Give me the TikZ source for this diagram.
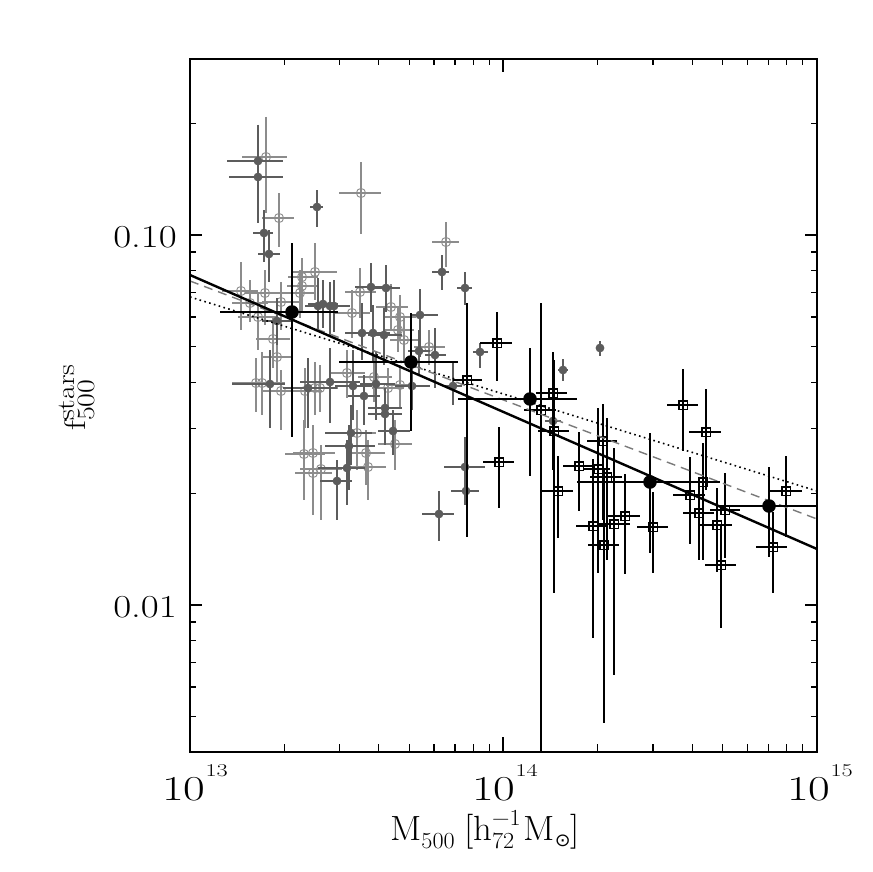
\documentclass[tikz,border=0pt]{standalone}
\usepackage{fontspec}
\newfontfamily\symfont{DejaVu Sans}
\definecolor{fgray}{gray}{0.36}
\definecolor{ogray}{gray}{0.55}
\definecolor{lgray}{gray}{0.48}
\tikzset{
 ebf/.style={fgray,line width=1.4pt},
 ebo/.style={ogray,line width=1.2pt},
 ebs/.style={black,line width=1.7pt},
 ebb/.style={black,line width=2.7pt},
 frame/.style={black,line width=1.5pt},
 tickl/.style={black,line width=1.2pt},
 ticklab/.style={inner sep=0pt},
 fitsolid/.style={black,line width=2.4pt},
 fitdash/.style={lgray,line width=1.4pt,dash pattern=on 9pt off 6pt},
 fitdot/.style={black,line width=1.6pt,dash pattern=on 1.6pt off 3.4pt},
}
\newcommand{\tpow}[1]{\scalebox{1.35}[1]{\fontsize{35}{35}\selectfont 10\raisebox{24pt}{\fontsize{18}{18}\selectfont #1}}}
\begin{document}
\begin{tikzpicture}[x=1pt,y=-1pt]
\fill[white] (0,0) rectangle (872,872);
\useasboundingbox (0,0) rectangle (872,872);
\begin{scope}
\clip (190,59) rectangle (817,752);
% open gray circles
\foreach \px/\py/\xa/\xb/\ya/\yb in {
266/157/242/287/117/213, 279/218/262/294/193/247, 361/193/339/381/162/234,
315/272/292/337/243/300, 446/242/432/459/222/267, 241/291/222/258/262/330,
302/277/288/318/258/300, 302/286/287/318/262/312, 300/293/285/316/270/318,
265/293/245/285/270/325, 281/302/262/300/282/330, 250/303/232/268/280/322,
258/317/238/276/292/350, 273/339/256/290/318/368, 277/357/262/292/332/385,
360/292/345/376/268/318, 352/313/335/370/290/338, 391/307/376/408/284/330,
400/317/385/416/295/340, 398/330/383/414/308/352, 404/340/390/420/318/362,
429/347/414/445/330/365, 347/373/330/365/350/398, 374/377/358/392/355/402,
256/383/232/280/358/412, 262/383/240/285/352/415, 281/391/262/300/370/430,
305/391/288/322/368/428, 315/388/298/332/362/415, 320/388/305/338/365/412,
388/388/372/404/368/410, 400/385/386/416/365/408, 304/454/285/325/420/500,
313/453/293/335/425/495, 321/469/300/342/445/520, 313/473/295/332/450/515,
357/433/338/376/410/470, 366/453/348/385/430/485, 368/467/350/386/440/500,
395/444/378/412/420/470}{
  \draw[ebo] (\xa,\py) -- (\xb,\py) (\px,\ya) -- (\px,\yb);
  \draw[ogray,line width=0.9pt] (\px,\py) circle[radius=4.6];
}
% filled gray circles
\foreach \px/\py/\xa/\xb/\ya/\yb in {
258/161/227/283/125/223, 258/177/229/283/125/223, 264/233/253/273/210/262,
269/254/258/280/230/282, 317/207/310/323/190/227, 442/272/432/449/255/290,
465/288/457/472/272/305, 371/287/355/392/263/312, 386/288/372/400/265/312,
318/306/305/335/278/330, 323/304/308/338/280/328, 330/306/315/345/282/335,
334/306/320/350/280/332, 277/321/262/292/298/345, 362/333/345/380/303/360,
373/333/358/390/305/362, 384/335/368/402/308/365, 420/315/410/438/289/357,
419/351/408/430/330/375, 435/355/425/446/328/388, 453/386/443/462/362/405,
480/352/473/488/343/368, 270/384/232/285/350/428, 308/388/283/337/358/428,
330/382/300/360/348/423, 353/386/335/372/350/420, 364/396/348/380/375/425,
376/384/360/395/352/420, 385/408/368/402/388/440, 385/414/368/402/392/445,
393/431/378/410/410/455, 351/433/325/372/405/465, 349/446/325/375/425/490,
347/468/318/365/440/505, 337/481/320/352/460/520, 412/386/395/430/360/410,
465/467/444/485/437/505, 466/491/451/479/470/505, 439/514/422/454/491/541,
563/370/558/568/359/381, 600/348/596/604/341/356, 553/421/545/561/410/432}{
  \draw[ebf] (\xa,\py) -- (\xb,\py) (\px,\ya) -- (\px,\yb);
  \fill[fgray] (\px,\py) circle[radius=4.4];
}
% black open squares
\foreach \px/\py/\xa/\xb/\ya/\yb in {
497/343/480/512/312/381, 499/462/483/514/427/508, 467/380/453/482/303/537,
541/410/524/556/303/752, 553/393/536/567/352/470, 554/431/538/569/360/593,
558/491/542/573/456/538, 579/466/563/595/432/511, 603/441/587/617/404/520,
598/469/583/610/408/573, 607/477/590/622/418/560, 593/526/576/607/459/638,
614/524/598/630/448/675, 604/545/588/619/470/723, 625/516/608/640/474/574,
653/527/637/668/492/573, 683/405/667/698/369/451, 706/432/689/721/389/490,
703/482/687/717/443/560, 690/495/673/705/457/544, 699/513/683/714/487/560,
725/510/710/740/473/558, 717/525/700/732/488/572, 721/565/705/736/524/628,
773/547/756/787/512/593, 786/491/770/802/456/537}{
  \draw[ebs] (\xa,\py) -- (\xb,\py) (\px,\ya) -- (\px,\yb);
  \draw[black,line width=1.4pt] (\px,\py) +(-4.2,-4.2) rectangle +(4.2,4.2);
}
% fits
\coordinate (dl) at (190,297); \coordinate (dr) at (817,491);
\coordinate (gl) at (190,281); \coordinate (gr) at (817,519);
\coordinate (sl) at (190,275); \coordinate (sr) at (817,549);
\draw[fitdot] (dl) -- (dr);
\draw[fitdash] (gl) -- (gr);
\draw[fitsolid] (sl) -- (sr);
% binned points
\foreach \px/\py/\xa/\xb/\ya/\yb in {
292/312/220/338/243/437, 411/362/339/458/313/431, 530/399/458/577/348/476,
650/482/577/720/433/553, 769/506/720/817/467/557}{
  \draw[ebb] (\xa,\py) -- (\xb,\py) (\px,\ya) -- (\px,\yb);
  \fill[black] (\px,\py) circle[radius=6.8];
}
\end{scope}
% frame
\draw[frame] (190,59) rectangle (817,752);
% x ticks
\foreach \k in {2,...,9}{
  \pgfmathsetmacro\dx{313.5*log10(\k)}
  \foreach \dd in {0,313.5}{
    \draw[tickl] ({190+\dd+\dx},752) -- ++(0,-8);
    \draw[tickl] ({190+\dd+\dx},59) -- ++(0,6);
  }
}
\draw[tickl] (503,752) -- ++(0,-15);
\draw[tickl] (503,59) -- ++(0,13);
% y ticks
\foreach \k in {2,...,9}{
  \pgfmathsetmacro\dy{370*log10(\k)}
  \draw[tickl] (190,{605-\dy}) -- ++(6,0);
  \draw[tickl] (817,{605-\dy}) -- ++(-6,0);
}
\foreach \k in {5,...,9}{
  \pgfmathsetmacro\dy{370*log10(\k)}
  \draw[tickl] (190,{975-\dy}) -- ++(6,0);
  \draw[tickl] (817,{975-\dy}) -- ++(-6,0);
}
\draw[tickl] (190,123.6) -- ++(6,0);
\draw[tickl] (817,123.6) -- ++(-6,0);
\foreach \yy in {235,605}{
  \draw[tickl] (190,\yy) -- ++(12,0);
  \draw[tickl] (817,\yy) -- ++(-12,0);
}
% labels
\node[ticklab,anchor=east] (y010) at (177,237) {\scalebox{1.22}[1]{\fontsize{32}{32}\selectfont 0.10}};
\node[ticklab,anchor=east] (y001) at (177,607) {\scalebox{1.22}[1]{\fontsize{32}{32}\selectfont 0.01}};
\node[ticklab,anchor=base] (x13) at (195,800) {\tpow{13}};
\node[ticklab,anchor=base] (x14) at (505,800) {\tpow{14}};
\node[ticklab,anchor=base] (x15) at (820,800) {\tpow{15}};
\node[ticklab,anchor=base west] (xlab) at (390,840) {\scalebox{1.05}[1]{\fontsize{35}{35}\selectfont M\raisebox{-8pt}{\fontsize{23}{23}\selectfont 500}\hspace{9pt}[h\rlap{\raisebox{15pt}{\fontsize{23}{23}\selectfont −1}}\raisebox{-8pt}{\fontsize{23}{23}\selectfont 72}\hspace{9pt}M\raisebox{-6pt}{\fontsize{18}{18}\symfont ⊙}]}};
\node[ticklab,anchor=base west,rotate=90] (ylab) at (85,431) {\scalebox{1.2}[1]{\fontsize{30}{30}\selectfont f\rlap{\raisebox{-9pt}{\fontsize{25}{25}\selectfont 500}}\raisebox{11pt}{\fontsize{25}{25}\selectfont stars}}};
\end{tikzpicture}
\end{document}
